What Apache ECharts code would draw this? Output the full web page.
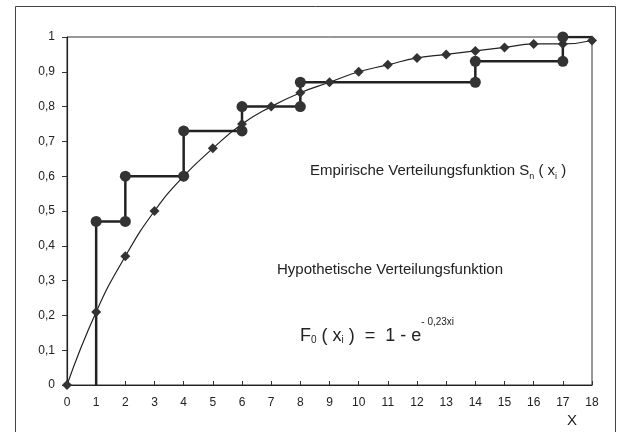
<!DOCTYPE html>
<html>
<head>
<meta charset="utf-8">
<script src="https://cdn.jsdelivr.net/npm/echarts@6/dist/echarts.min.js"></script>
<style>
  html, body { margin: 0; padding: 0; background: #fff; }
  #chart { width: 619px; height: 432px; }
</style>
</head>
<body>
<div id="chart"></div>
<script>
const hypX = [0, 1, 2, 3, 4, 5, 6, 7, 8, 9, 10, 11, 12, 13, 14, 15, 16, 17, 18];
const hypY = [0, 0.21, 0.37, 0.50, 0.60, 0.68, 0.75, 0.80, 0.84, 0.87, 0.90, 0.92, 0.94, 0.95, 0.96, 0.97, 0.98, 0.98, 0.99];

// empirische Verteilungsfunktion (Treppenpunkte)
const stepX = [1, 1, 2, 2, 4, 4, 6, 6, 8, 8, 14, 14, 17, 17, 18];
const stepY = [0, 0.47, 0.47, 0.60, 0.60, 0.73, 0.73, 0.80, 0.80, 0.87, 0.87, 0.93, 0.93, 1.00, 1.00];
// Punkte ohne Kreis: Start auf der Achse und Ende am Rand
const noMark = [0, 14];

const xTicks = [0, 18, 1];
const yTicks = [0, 1, 0.1];

const fontFam = 'Liberation Sans, Arial, sans-serif';

const chart = echarts.init(document.getElementById('chart'), null, { renderer: 'canvas' });

const stepData = stepX.map((x, i) => {
  const p = { value: [x, stepY[i]] };
  if (noMark.includes(i)) p.symbol = 'none';
  return p;
});

chart.setOption({
  animation: false,
  backgroundColor: '#fff',
  grid: {
    left: 67, right: 27, top: 37, bottom: 47,
    show: true, borderColor: '#333', borderWidth: 1
  },
  xAxis: {
    type: 'value',
    min: xTicks[0], max: xTicks[1], interval: xTicks[2],
    axisLine: { lineStyle: { color: '#222', width: 1.2 } },
    axisTick: { inside: true, length: 4, lineStyle: { color: '#333' } },
    axisLabel: { color: '#222', fontSize: 12, fontFamily: fontFam, margin: 12 },
    splitLine: { show: false }
  },
  yAxis: {
    type: 'value',
    min: yTicks[0], max: yTicks[1], interval: yTicks[2],
    axisLine: { show: true, lineStyle: { color: '#222', width: 1.2 } },
    axisTick: { show: true, length: 5, lineStyle: { color: '#333' } },
    axisLabel: {
      color: '#222', fontSize: 12, fontFamily: fontFam, margin: 12,
      formatter: v => String(+v.toFixed(1)).replace('.', ',')
    },
    splitLine: { show: false }
  },
  series: [
    {
      name: 'Hypothetische Verteilungsfunktion',
      type: 'line',
      smooth: true,
      data: hypX.map((x, i) => [x, hypY[i]]),
      symbol: 'diamond',
      symbolSize: 10,
      itemStyle: { color: '#333' },
      lineStyle: { color: '#222', width: 1.2 },
      z: 3
    },
    {
      name: 'Empirische Verteilungsfunktion',
      type: 'line',
      data: stepData,
      symbol: 'circle',
      symbolSize: 11,
      itemStyle: { color: '#333' },
      lineStyle: { color: '#222', width: 2.5 },
      z: 2
    }
  ],
  graphic: [
    {
      type: 'rect',
      shape: { x: 15.5, y: 6.5, width: 600, height: 440 },
      style: { fill: null, stroke: '#444', lineWidth: 1 },
      silent: true
    },
    {
      type: 'text', x: 310, y: 171,
      style: {
        text: '{n|Empirische Verteilungsfunktion S}{s|n}{n| ( x}{s|i}{n| )}',
        verticalAlign: 'middle',
        rich: {
          n: { fontSize: 15, fontFamily: fontFam, fill: '#222', lineHeight: 20 },
          s: { fontSize: 9, fontFamily: fontFam, fill: '#222', verticalAlign: 'bottom', lineHeight: 20 }
        }
      }
    },
    {
      type: 'text', x: 277, y: 270,
      style: {
        text: 'Hypothetische Verteilungsfunktion',
        verticalAlign: 'middle',
        fontSize: 15, fontFamily: fontFam, fill: '#222'
      }
    },
    {
      type: 'text', x: 300, y: 331,
      style: {
        text: '{n|F}{s|0}{n| ( x}{s|i}{n| )  =  1 - e}{p|- 0,23xi}',
        verticalAlign: 'middle',
        rich: {
          n: { fontSize: 18, fontFamily: fontFam, fill: '#222', lineHeight: 28, verticalAlign: 'bottom' },
          s: { fontSize: 10, fontFamily: fontFam, fill: '#222', verticalAlign: 'bottom', lineHeight: 26 },
          p: { fontSize: 10, fontFamily: fontFam, fill: '#222', verticalAlign: 'top', lineHeight: 22 }
        }
      }
    },
    {
      type: 'text', x: 572, y: 421,
      style: {
        text: 'X', align: 'center', verticalAlign: 'middle',
        fontSize: 15, fontFamily: fontFam, fill: '#222'
      }
    }
  ]
});
</script>
</body>
</html>
